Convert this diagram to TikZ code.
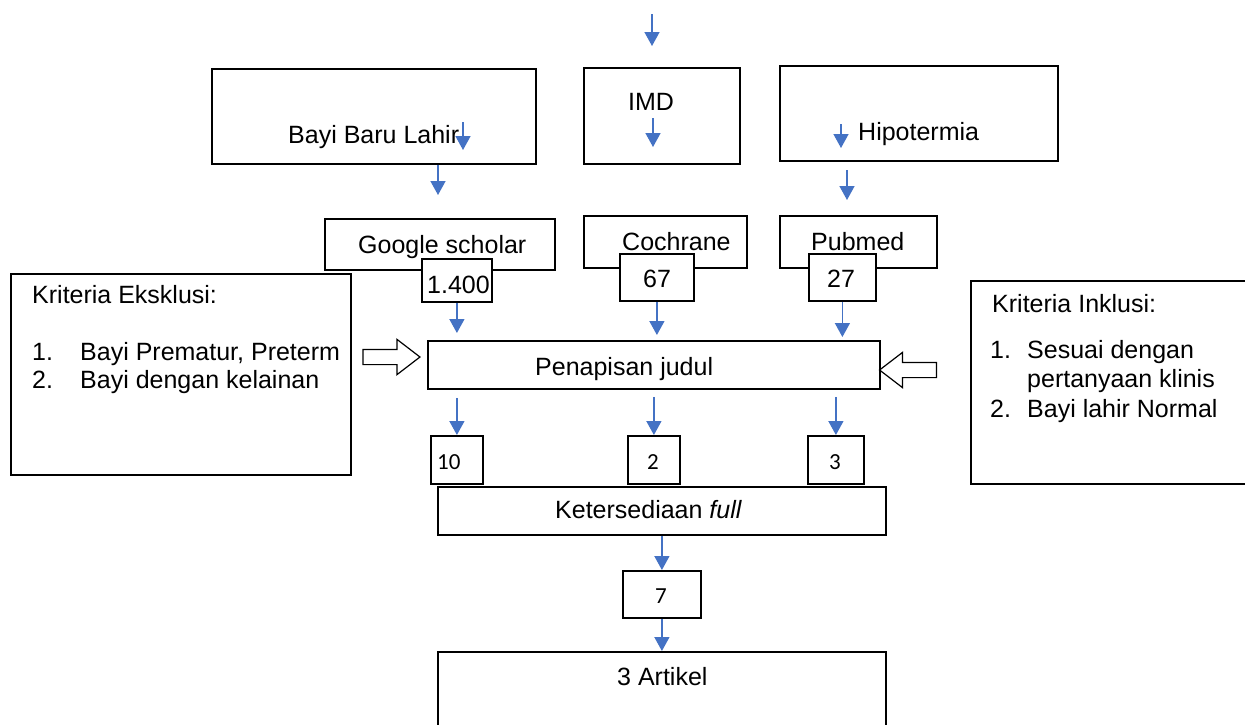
\documentclass[tikz,border=0pt]{standalone}
\usepackage{fontspec}
\setmainfont{Liberation Sans}
\newfontfamily\numfont{Carlito}
\usetikzlibrary{arrows.meta,shapes.arrows}
\definecolor{arrblue}{RGB}{68,114,196}

\tikzset{
  box/.style={draw,line width=1.8pt,inner sep=0pt,anchor=north west,fill=white},
  txt/.style={inner sep=0pt,anchor=base west,font=\fontsize{25}{30}\selectfont},
  num/.style={inner sep=0pt,anchor=base west,font=\numfont\fontsize{23}{27}\selectfont},
  arr/.style={-{Triangle[width=15pt,length=14pt]},line width=1.5pt,draw=arrblue,fill=arrblue},
  fat/.style={single arrow,draw,line width=1.2pt,inner sep=7pt,single arrow head extend=10pt,single arrow tip angle=75,minimum height=57pt}
}

\begin{document}
\begin{tikzpicture}[x=1pt,y=-1pt]
\useasboundingbox (0,0) rectangle (1245,724);
% top row
\node[box,minimum width=324pt,minimum height=95pt] (bbl) at (211,68) {};
\node[box,minimum width=156pt,minimum height=96pt] (imd) at (583,67) {};
\node[box,minimum width=278pt,minimum height=95pt] (hipo) at (779,65) {};
\node[txt] (bblt) at (288,143) {Bayi Baru Lahir};
\node[txt] (imdt) at (628,110) {IMD};
\node[txt] (hipot) at (858,140) {Hipotermia};
% databases
\node[box,minimum width=230pt,minimum height=51pt] (gs) at (324,218) {};
\node[box,minimum width=163pt,minimum height=52pt] (coch) at (583,215) {};
\node[box,minimum width=157pt,minimum height=52pt] (pub) at (779,215) {};
\node[txt] (gst) at (358,253) {Google scholar};
\node[txt] (locht) at (622,250) {Cochrane};
\node[txt] (pubt) at (811,250) {Pubmed};
\node[box,minimum width=70pt,minimum height=43pt] (n1400) at (421,258) {};
\node[box,minimum width=74pt,minimum height=47pt] (n67) at (619,253) {};
\node[box,minimum width=67pt,minimum height=47pt] (n27) at (808,253) {};
\node[txt] (n1400t) at (427,293) {1.400};
\node[txt] (n67t) at (643,287) {67};
\node[txt] (n27t) at (827,287) {27};
% criteria
\node[box,minimum width=340pt,minimum height=201pt] (ekskl) at (10,273) {};
\node[txt] (ek0) at (32,303) {Kriteria Eksklusi:};
\node[txt] (ek1n) at (32,360) {1.};
\node[txt] (ek1) at (80,360) {Bayi Prematur, Preterm};
\node[txt] (ek2n) at (32,388) {2.};
\node[txt] (ek2) at (80,388) {Bayi dengan kelainan};
\node[box,minimum width=285pt,minimum height=203pt] (inkl) at (970,280) {};
\node[txt] (in0) at (992,312) {Kriteria Inklusi:};
\node[txt] (in1n) at (990,358) {1.};
\node[txt] (in1) at (1027,358) {Sesuai dengan};
\node[txt] (in1b) at (1027,387) {pertanyaan klinis};
\node[txt] (in2n) at (990,417) {2.};
\node[txt] (in2) at (1027,417) {Bayi lahir Normal};
% screening
\node[box,minimum width=452pt,minimum height=48pt] (pen) at (427,340) {};
\node[txt] (pent) at (535,375) {Penapisan judul};
\node[fat] (exarr) at (386.5,357) {};
\node[fat,shape border rotate=180] (inarr) at (913,370) {};
\node[box,minimum width=52pt,minimum height=48pt] (n10) at (430,435) {};
\node[box,minimum width=52pt,minimum height=48pt] (n2) at (627,435) {};
\node[box,minimum width=56pt,minimum height=48pt] (n3) at (807,435) {};
\node[num] (n10t) at (437,469) {10};
\node[num] (n2t) at (647,469) {2};
\node[num] (n3t) at (829,469) {3};
\node[box,minimum width=448pt,minimum height=48pt] (kf) at (437,486) {};
\node[txt] (kft) at (555,518) {Ketersediaan \textit{full}};
\node[box,minimum width=78pt,minimum height=47pt] (n7) at (622,570) {};
\node[num] (n7t) at (655,603) {7};
\node[box,minimum width=448pt,minimum height=90pt] (art) at (437,651) {};
\node[txt] (artt) at (617,685) {3 Artikel};
% arrows
\coordinate (a0) at (652,14);
\coordinate (a1) at (652,46);
\coordinate (b0) at (463,122);
\coordinate (b1) at (463,150);
\coordinate (c0) at (653,118);
\coordinate (c1) at (653,147);
\coordinate (d0) at (841,124);
\coordinate (d1) at (841,148);
\coordinate (g1) at (438,195);
\coordinate (p0) at (847,170);
\coordinate (p1) at (847,200);
\draw[arr] (a0)--(a1);
\draw[arr] (b0)--(b1);
\draw[arr] (c0)--(c1);
\draw[arr] (d0)--(d1);
\draw[arr] (bbl.south -| g1)--(g1);
\draw[arr] (p0)--(p1);
\draw[arr,shorten >=7pt] (n1400.south)--(n1400.south |- pen.north);
\draw[arr,shorten >=5pt] (n67.south)--(n67.south |- pen.north);
\draw[arr,shorten >=3pt] (n27.south)--(n27.south |- pen.north);
\draw[arr,shorten <=8pt] (n10.north |- pen.south)--(n10.north);
\draw[arr,shorten <=7pt] (n2.north |- pen.south)--(n2.north);
\draw[arr,shorten <=7pt] (n3.north |- pen.south)--(n3.north);
\draw[arr] (n7.north |- kf.south)--(n7.north);
\draw[arr] (n7.south)--(n7.south |- art.north);
\end{tikzpicture}
\end{document}
